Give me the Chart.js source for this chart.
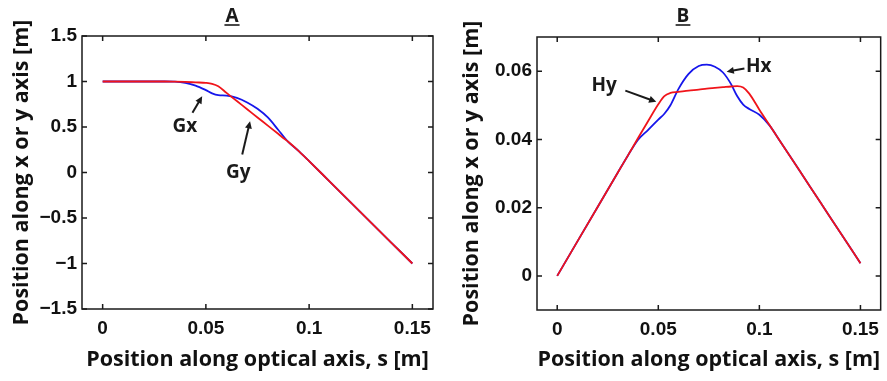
<!DOCTYPE html>
<html>
<head>
<meta charset="utf-8">
<title>Position along x or y axis</title>
<script src="https://cdn.jsdelivr.net/npm/chart.js@4.4.1/dist/chart.umd.min.js"></script>
<style>
  body { margin: 0; background: #ffffff; }
  #boxA { position: absolute; left: 0; top: 0; }
  #boxB { position: absolute; left: 440px; top: 0; }
</style>
</head>
<body>
<div id="boxA"><canvas id="firstChart" width="440" height="381"></canvas></div>
<div id="boxB"><canvas id="secondChart" width="447" height="381"></canvas></div>
<script>

// panel A : G rays
var posA = [0, 0.01, 0.02, 0.03, 0.035, 0.04, 0.045, 0.05, 0.053, 0.056, 0.06, 0.065, 0.07, 0.075, 0.08, 0.085, 0.088, 0.09, 0.095, 0.1, 0.11, 0.12, 0.13, 0.14, 0.15];
var gxValues = [1, 1, 1, 1, 0.998, 0.985, 0.955, 0.905, 0.87, 0.85, 0.845, 0.82, 0.77, 0.70, 0.605, 0.47, 0.385, 0.335, 0.235, 0.125, -0.10, -0.325, -0.55, -0.775, -1.0];
var gyValues = [1, 1, 1, 1, 0.998, 0.995, 0.99, 0.985, 0.975, 0.948, 0.875, 0.785, 0.695, 0.605, 0.515, 0.425, 0.37, 0.335, 0.235, 0.125, -0.10, -0.325, -0.55, -0.775, -1.0];

// panel B : H rays
var posB = [0, 0.01, 0.02, 0.03, 0.035, 0.04, 0.045, 0.05, 0.053, 0.056, 0.06, 0.065, 0.07, 0.074, 0.078, 0.082, 0.086, 0.089, 0.092, 0.095, 0.1, 0.105, 0.11, 0.12, 0.13, 0.14, 0.15];
var hxValues = [0, 0.0101, 0.0202, 0.0303, 0.0353, 0.0399, 0.0428, 0.0458, 0.0475, 0.0500, 0.0548, 0.0592, 0.0615, 0.0619, 0.0613, 0.0596, 0.0562, 0.0527, 0.0502, 0.0489, 0.0472, 0.0441, 0.0397, 0.0307, 0.0217, 0.0127, 0.0037];
var hyValues = [0, 0.0101, 0.0202, 0.0303, 0.0353, 0.0404, 0.0454, 0.0503, 0.0527, 0.0536, 0.0539, 0.0543, 0.0546, 0.0549, 0.0551, 0.0553, 0.0555, 0.0556, 0.0552, 0.0534, 0.0487, 0.0442, 0.0397, 0.0307, 0.0217, 0.0127, 0.0037];

// tick labels
var xTicks = [0, 0.05, 0.1, 0.15];
var yTicksA = [-1.5, -1, -0.5, 0, 0.5, 1, 1.5];
var yTicksB = [0, 0.02, 0.04, 0.06];

// annotations (text, text position, arrow start, arrow end) in data units
var notesA = ["Gx", "Gy"];
var notePosA = [[0.0398, 0.505], [0.0657, 0.0]];
var arrowFromA = [[0.0435, 0.656], [0.0676, 0.198]];
var arrowToA = [[0.0482, 0.838], [0.0714, 0.564]];

var notesB = ["Hx", "Hy"];
var notePosB = [[0.0997, 0.0613], [0.0232, 0.0559]];
var arrowFromB = [[0.0926, 0.0608], [0.0337, 0.0543]];
var arrowToB = [[0.0838, 0.0598], [0.0490, 0.0510]];

var labelFont = "'Open Sans', 'DejaVu Sans', sans-serif";
var tickFont = "'Liberation Sans', Arial, sans-serif";

function toPoints(pos, values) {

  var points = [];
  for (var i = 0; i < pos.length; i++) {

    points.push({ x: pos[i], y: values[i] });
  }
  return points;
}

function fmt(value) {

  return String(Number(value.toFixed(4))).replace("-", "\u2212");
}

function drawArrow(ctx, x1, y1, x2, y2) {

  var ang = Math.atan2(y2 - y1, x2 - x1);
  var head = 8;
  ctx.beginPath();
  ctx.moveTo(x1, y1);
  ctx.lineTo(x2 - Math.cos(ang) * 4, y2 - Math.sin(ang) * 4);
  ctx.stroke();
  ctx.beginPath();
  ctx.moveTo(x2, y2);
  ctx.lineTo(x2 - head * Math.cos(ang - 0.45), y2 - head * Math.sin(ang - 0.45));
  ctx.lineTo(x2 - head * Math.cos(ang + 0.45), y2 - head * Math.sin(ang + 0.45));
  ctx.closePath();
  ctx.fill();
}

// box around the plot, inward ticks, underlined panel letter and arrows
var framePlugin = {

  id: "frame",
  afterDraw: function(chart) {

    var ctx = chart.ctx;
    var area = chart.chartArea;
    var xs = chart.scales.x;
    var ys = chart.scales.y;
    var opt = chart.options.plugins.frame;

    ctx.save();
    ctx.strokeStyle = "#1a1a1a";
    ctx.fillStyle = "#1a1a1a";
    ctx.lineWidth = 1.5;
    ctx.strokeRect(area.left, area.top, area.right - area.left, area.bottom - area.top);

    ctx.beginPath();
    for (var i = 0; i < xs.ticks.length; i++) {

      var px = xs.getPixelForValue(xs.ticks[i].value);
      ctx.moveTo(px, area.bottom);
      ctx.lineTo(px, area.bottom - 5);
      ctx.moveTo(px, area.top);
      ctx.lineTo(px, area.top + 5);
    }
    for (var j = 0; j < ys.ticks.length; j++) {

      var py = ys.getPixelForValue(ys.ticks[j].value);
      ctx.moveTo(area.left, py);
      ctx.lineTo(area.left + 5, py);
      ctx.moveTo(area.right, py);
      ctx.lineTo(area.right - 5, py);
    }
    ctx.stroke();

    // panel letter
    ctx.font = "bold 19px " + labelFont;
    ctx.textAlign = "center";
    ctx.textBaseline = "alphabetic";
    ctx.fillText(opt.letter, opt.letterX, 22);
    var w = ctx.measureText(opt.letter).width;
    ctx.lineWidth = 1.6;
    ctx.beginPath();
    ctx.moveTo(opt.letterX - w / 2 - 1, 25);
    ctx.lineTo(opt.letterX + w / 2 + 1, 25);
    ctx.stroke();

    // notes
    ctx.font = "bold 19px " + labelFont;
    ctx.textBaseline = "middle";
    ctx.lineWidth = 2;
    for (var k = 0; k < opt.notes.length; k++) {

      ctx.fillText(opt.notes[k], xs.getPixelForValue(opt.notePos[k][0]), ys.getPixelForValue(opt.notePos[k][1]));
      drawArrow(ctx,
        xs.getPixelForValue(opt.arrowFrom[k][0]), ys.getPixelForValue(opt.arrowFrom[k][1]),
        xs.getPixelForValue(opt.arrowTo[k][0]), ys.getPixelForValue(opt.arrowTo[k][1]));
    }
    ctx.restore();
  }
};

function makeChart(canvasId, cfg) {

  var ctx = document.getElementById(canvasId).getContext("2d");
  var chart = new Chart(ctx, {

    type: "line",

    data: {
      datasets: [{
        label: cfg.redLabel,
        data: cfg.red,
        borderColor: "rgb(240, 20, 26)",
        borderWidth: 1.8,
        pointRadius: 0,
        fill: false,
        cubicInterpolationMode: "monotone"
      }, {
        label: cfg.blueLabel,
        data: cfg.blue,
        borderColor: "rgb(22, 22, 235)",
        borderWidth: 1.8,
        pointRadius: 0,
        fill: false,
        cubicInterpolationMode: "monotone"
      }]
    },

    options: {
      responsive: false,
      animation: false,
      layout: { padding: cfg.padding },
      plugins: {
        legend: { display: false },
        tooltip: { enabled: false },
        frame: {
          letter: cfg.letter,
          letterX: cfg.letterX,
          notes: cfg.notes,
          notePos: cfg.notePos,
          arrowFrom: cfg.arrowFrom,
          arrowTo: cfg.arrowTo
        }
      },
      scales: {
        x: {
          type: "linear",
          min: -0.01,
          max: 0.16,
          grid: { display: false, drawTicks: false },
          border: { display: false },
          afterBuildTicks: function(scale) {
            scale.ticks = xTicks.map(function(v) { return { value: v }; });
          },
          afterFit: function(scale) { scale.height = cfg.xHeight; },
          ticks: {
            padding: 8,
            color: "#111",
            maxRotation: 0,
            font: { family: tickFont, size: 19, weight: "bold" },
            callback: function(value) { return fmt(value); }
          },
          title: {
            display: true,
            text: "Position along optical axis, s [m]",
            color: "#111",
            padding: { top: 0, bottom: 0 },
            font: { family: labelFont, size: 21.5, weight: "bold" }
          }
        },
        y: {
          type: "linear",
          min: cfg.yMin,
          max: cfg.yMax,
          grid: { display: false, drawTicks: false },
          border: { display: false },
          afterBuildTicks: function(scale) {
            scale.ticks = cfg.yTicks.map(function(v) { return { value: v }; });
          },
          afterFit: function(scale) { scale.width = cfg.yWidth; },
          ticks: {
            padding: 5,
            color: "#111",
            font: { family: tickFont, size: 19, weight: "bold" },
            callback: function(value) { return fmt(value); }
          },
          title: {
            display: true,
            text: "Position along x or y axis [m]",
            color: "#111",
            padding: { top: 0, bottom: 0 },
            font: { family: labelFont, size: 21.5, weight: "bold" }
          }
        }
      }
    },

    plugins: [framePlugin]
  });
  return chart;
}

function init() {

  makeChart("firstChart", {
    red: toPoints(posA, gyValues),
    blue: toPoints(posA, gxValues),
    redLabel: "Gy",
    blueLabel: "Gx",
    yMin: -1.5,
    yMax: 1.5,
    yTicks: yTicksA,
    padding: { left: 9, right: 7, top: 36, bottom: 8 },
    yWidth: 73,
    xHeight: 64,
    letter: "A",
    letterX: 232,
    notes: notesA,
    notePos: notePosA,
    arrowFrom: arrowFromA,
    arrowTo: arrowToA
  });

  makeChart("secondChart", {
    red: toPoints(posB, hyValues),
    blue: toPoints(posB, hxValues),
    redLabel: "Hy",
    blueLabel: "Hx",
    yMin: -0.01,
    yMax: 0.07,
    yTicks: yTicksB,
    padding: { left: 19, right: 1, top: 37, bottom: 8 },
    yWidth: 78,
    xHeight: 63,
    letter: "B",
    letterX: 243,
    notes: notesB,
    notePos: notePosB,
    arrowFrom: arrowFromB,
    arrowTo: arrowToB
  });
}

init();
</script>
</body>
</html>
